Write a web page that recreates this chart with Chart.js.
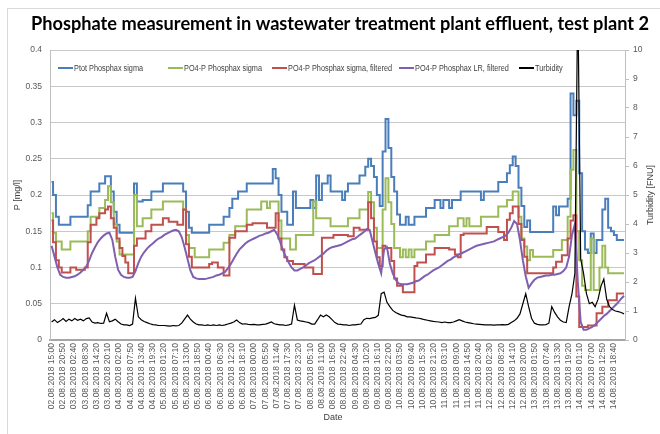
<!DOCTYPE html>
<html>
<head>
<meta charset="utf-8">
<script src="https://cdn.jsdelivr.net/npm/chart.js@4.4.1/dist/chart.umd.min.js"></script>
<style>
html,body{margin:0;padding:0;background:#fff;}
#wrap{width:660px;height:434px;position:relative;}
</style>
</head>
<body>
<div id="wrap"><canvas id="c" width="660" height="434"></canvas></div>
<script>
// ---------- DATA ----------
const chartTitle = 'Phosphate measurement in wastewater treatment plant effluent, test plant 2';
const yTitle = 'P [mg/l]';
const y1Title = 'Turbidity [FNU]';
const xTitle = 'Date';

// minutes since 02.08.2018 15:00 between two samples of every series
const sampleStepMinutes = 90;
// minutes between two date labels on the x axis
const labelStepMinutes = 350;

const xTickLabels = [
 '02.08.2018 15:00','02.08.2018 20:50','03.08.2018 02:40','03.08.2018 08:30','03.08.2018 14:20',
 '03.08.2018 20:10','04.08.2018 02:00','04.08.2018 07:50','04.08.2018 13:40','04.08.2018 19:30',
 '05.08.2018 01:20','05.08.2018 07:10','05.08.2018 13:00','05.08.2018 18:50','06.08.2018 00:40',
 '06.08.2018 06:30','06.08.2018 12:20','06.08.2018 18:10','07.08.2018 00:00','07.08.2018 05:50',
 '07.08.2018 11:40','07.08.2018 17:30','07.08.2018 23:20','08.08.2018 05:10','08.08.2018 11:00',
 '08.08.2018 16:50','08.08.2018 22:40','09.08.2018 04:30','09.08.2018 10:20','09.08.2018 16:10',
 '09.08.2018 22:00','10.08.2018 03:50','10.08.2018 09:40','10.08.2018 15:30','10.08.2018 21:20',
 '11.08.2018 03:10','11.08.2018 09:00','11.08.2018 14:50','11.08.2018 20:40','12.08.2018 02:30',
 '12.08.2018 08:20','12.08.2018 14:10','12.08.2018 20:00','13.08.2018 01:50','13.08.2018 07:40',
 '13.08.2018 13:30','13.08.2018 19:20','14.08.2018 01:10','14.08.2018 07:00','14.08.2018 12:50',
 '14.08.2018 18:40'
];
const yTicks = [0, 0.05, 0.1, 0.15, 0.2, 0.25, 0.3, 0.35, 0.4];
const y1Ticks = [0, 1, 2, 3, 4, 5, 6, 7, 8, 9, 10];

const seriesNames = ['Ptot Phosphax sigma', 'PO4-P Phosphax sigma', 'PO4-P Phosphax sigma, filtered', 'PO4-P Phosphax LR, filtered', 'Turbidity'];

const ptotSigma = [
 0.218,0.2,0.17,0.159,0.159,0.159,0.159,0.17,0.17,0.17,
 0.17,0.17,0.17,0.186,0.205,0.205,0.205,0.216,0.216,0.226,
 0.226,0.205,0.177,0.159,0.148,0.148,0.148,0.148,0.148,0.216,
 0.191,0.191,0.193,0.193,0.193,0.205,0.205,0.205,0.205,0.216,
 0.216,0.216,0.216,0.216,0.216,0.216,0.205,0.177,0.155,0.148,
 0.148,0.148,0.148,0.148,0.148,0.159,0.159,0.159,0.159,0.159,
 0.17,0.17,0.182,0.195,0.195,0.205,0.205,0.205,0.216,0.216,
 0.216,0.216,0.216,0.216,0.216,0.216,0.216,0.236,0.223,0.2,
 0.177,0.177,0.159,0.159,0.205,0.182,0.182,0.182,0.182,0.182,
 0.193,0.182,0.227,0.193,0.216,0.216,0.227,0.205,0.205,0.205,
 0.205,0.193,0.205,0.216,0.216,0.216,0.216,0.227,0.227,0.239,
 0.25,0.24,0.225,0.2,0.185,0.26,0.305,0.265,0.225,0.205,
 0.173,0.159,0.159,0.17,0.159,0.159,0.17,0.17,0.17,0.17,
 0.182,0.182,0.182,0.193,0.193,0.182,0.193,0.193,0.182,0.193,
 0.193,0.193,0.205,0.205,0.205,0.205,0.205,0.205,0.205,0.193,
 0.205,0.205,0.205,0.205,0.205,0.218,0.218,0.218,0.23,0.241,
 0.253,0.24,0.21,0.185,0.156,0.165,0.149,0.149,0.149,0.149,
 0.149,0.149,0.149,0.149,0.184,0.172,0.184,0.184,0.184,0.195,
 0.34,0.31,0.33,0.23,0.15,0.125,0.12,0.147,0.12,0.138,
 0.138,0.18,0.195,0.155,0.15,0.145,0.138,0.138,0.138
];
const po4Sigma = [
 0.175,0.148,0.136,0.136,0.125,0.125,0.125,0.136,0.136,0.136,
 0.136,0.136,0.136,0.15,0.17,0.17,0.17,0.182,0.182,0.193,
 0.212,0.19,0.16,0.136,0.118,0.118,0.118,0.118,0.118,0.2,
 0.157,0.157,0.168,0.168,0.168,0.18,0.18,0.18,0.18,0.191,
 0.191,0.191,0.191,0.191,0.191,0.191,0.18,0.145,0.127,0.127,
 0.114,0.114,0.114,0.114,0.114,0.125,0.125,0.125,0.125,0.125,
 0.134,0.134,0.145,0.145,0.157,0.157,0.157,0.157,0.18,0.18,
 0.18,0.18,0.18,0.191,0.191,0.182,0.191,0.191,0.191,0.165,
 0.14,0.14,0.14,0.125,0.125,0.145,0.145,0.145,0.145,0.145,
 0.145,0.191,0.168,0.168,0.168,0.168,0.168,0.157,0.157,0.157,
 0.157,0.157,0.157,0.168,0.168,0.168,0.168,0.18,0.18,0.18,
 0.204,0.19,0.155,0.127,0.127,0.18,0.223,0.19,0.16,0.127,
 0.127,0.114,0.125,0.114,0.125,0.114,0.125,0.125,0.125,0.125,
 0.136,0.136,0.136,0.145,0.145,0.145,0.145,0.145,0.157,0.157,
 0.157,0.168,0.168,0.157,0.168,0.157,0.157,0.157,0.157,0.17,
 0.17,0.17,0.17,0.17,0.17,0.184,0.184,0.184,0.193,0.193,
 0.205,0.205,0.17,0.14,0.129,0.11,0.124,0.115,0.115,0.115,
 0.115,0.115,0.115,0.115,0.124,0.124,0.124,0.138,0.138,0.17,
 0.235,0.262,0.15,0.11,0.075,0.069,0.069,0.14,0.069,0.069,
 0.1,0.13,0.1,0.092,0.092,0.092,0.092,0.092,0.092
];
const po4SigmaFiltered = [
 0.165,0.135,0.11,0.1,0.093,0.093,0.093,0.1,0.1,0.097,
 0.097,0.097,0.1,0.135,0.159,0.159,0.168,0.175,0.175,0.18,
 0.184,0.168,0.155,0.14,0.127,0.116,0.107,0.092,0.092,0.13,
 0.14,0.14,0.14,0.15,0.15,0.159,0.159,0.159,0.159,0.168,
 0.168,0.163,0.163,0.163,0.159,0.159,0.18,0.132,0.115,0.1,
 0.1,0.1,0.1,0.1,0.1,0.105,0.107,0.107,0.1,0.1,
 0.089,0.089,0.141,0.141,0.15,0.15,0.15,0.15,0.159,0.159,
 0.161,0.161,0.161,0.161,0.161,0.155,0.155,0.155,0.175,0.14,
 0.125,0.114,0.109,0.109,0.105,0.105,0.105,0.105,0.1,0.1,
 0.1,0.091,0.091,0.091,0.141,0.141,0.141,0.141,0.145,0.145,
 0.145,0.145,0.145,0.143,0.143,0.155,0.155,0.152,0.152,0.152,
 0.19,0.168,0.136,0.114,0.102,0.13,0.127,0.127,0.109,0.085,
 0.075,0.075,0.066,0.066,0.066,0.066,0.102,0.107,0.107,0.107,
 0.118,0.118,0.118,0.127,0.127,0.127,0.127,0.127,0.125,0.125,
 0.118,0.114,0.145,0.147,0.147,0.147,0.147,0.147,0.147,0.147,
 0.147,0.156,0.156,0.156,0.156,0.149,0.149,0.138,0.166,0.175,
 0.184,0.184,0.16,0.138,0.115,0.092,0.092,0.092,0.092,0.092,
 0.092,0.092,0.092,0.092,0.1,0.108,0.108,0.117,0.117,0.14,
 0.165,0.172,0.06,0.018,0.018,0.018,0.02,0.02,0.02,0.037,
 0.037,0.046,0.046,0.055,0.055,0.055,0.064,0.064,0.064
];
const po4LRFiltered = [
 0.13,0.115,0.1,0.09,0.087,0.086,0.086,0.087,0.088,0.09,
 0.093,0.097,0.101,0.11,0.12,0.128,0.135,0.14,0.144,0.147,
 0.148,0.138,0.115,0.097,0.09,0.087,0.086,0.086,0.087,0.095,
 0.106,0.115,0.121,0.126,0.13,0.133,0.137,0.14,0.142,0.145,
 0.147,0.149,0.151,0.152,0.15,0.142,0.128,0.112,0.096,0.087,
 0.085,0.084,0.084,0.084,0.085,0.086,0.087,0.089,0.09,0.092,
 0.094,0.099,0.105,0.112,0.119,0.125,0.129,0.133,0.136,0.138,
 0.14,0.142,0.144,0.145,0.147,0.148,0.15,0.152,0.146,0.136,
 0.124,0.115,0.107,0.1,0.096,0.096,0.098,0.1,0.103,0.106,
 0.108,0.11,0.113,0.116,0.119,0.123,0.126,0.128,0.129,0.13,
 0.131,0.133,0.135,0.137,0.139,0.14,0.143,0.146,0.149,0.153,
 0.152,0.136,0.12,0.105,0.092,0.125,0.128,0.105,0.092,0.083,
 0.078,0.077,0.077,0.077,0.078,0.079,0.081,0.082,0.085,0.088,
 0.09,0.093,0.096,0.098,0.1,0.103,0.106,0.109,0.111,0.114,
 0.116,0.118,0.12,0.122,0.124,0.126,0.128,0.13,0.131,0.132,
 0.133,0.134,0.135,0.136,0.138,0.14,0.142,0.144,0.148,0.155,
 0.164,0.16,0.138,0.11,0.088,0.072,0.078,0.083,0.086,0.087,
 0.088,0.089,0.089,0.09,0.09,0.091,0.092,0.095,0.1,0.115,
 0.145,0.16,0.08,0.025,0.014,0.014,0.016,0.018,0.021,0.025,
 0.029,0.033,0.036,0.04,0.044,0.048,0.052,0.057,0.061
];
const turbidity = [
 0.62,0.7,0.6,0.66,0.74,0.64,0.72,0.66,0.74,0.68,
 0.72,0.66,0.74,0.76,0.62,0.58,0.6,0.57,0.58,0.92,
 0.63,0.66,0.72,0.63,0.55,0.52,0.52,0.5,0.55,1.44,
 0.8,0.7,0.64,0.6,0.56,0.53,0.52,0.5,0.5,0.5,
 0.49,0.48,0.5,0.49,0.5,0.58,0.72,0.86,0.72,0.62,
 0.55,0.52,0.52,0.5,0.52,0.5,0.52,0.5,0.52,0.5,
 0.52,0.55,0.58,0.62,0.69,0.6,0.55,0.56,0.54,0.53,
 0.54,0.52,0.52,0.54,0.55,0.58,0.62,0.56,0.54,0.52,
 0.52,0.5,0.52,0.55,1.2,0.69,0.66,0.64,0.62,0.6,
 0.55,0.55,0.7,0.86,0.8,0.86,0.8,0.7,0.6,0.55,
 0.54,0.52,0.52,0.5,0.52,0.52,0.54,0.55,0.7,0.75,
 0.74,0.76,0.78,0.85,1.6,1.65,1.3,1.15,1.02,0.95,
 0.9,0.86,0.84,0.8,0.8,0.78,0.76,0.75,0.73,0.7,
 0.68,0.66,0.64,0.63,0.62,0.6,0.62,0.6,0.6,0.62,
 0.66,0.7,0.66,0.62,0.6,0.58,0.56,0.55,0.54,0.53,
 0.52,0.52,0.52,0.51,0.52,0.52,0.53,0.52,0.54,0.6,
 0.66,0.75,0.9,1.25,1.6,1.15,0.75,0.58,0.54,0.52,
 0.52,0.53,0.58,1.15,0.95,0.8,0.68,0.62,0.6,1.15,
 1.6,2.3,12,2.8,2.3,1.6,1.25,1.3,1.15,1.4,
 1.85,2.1,1.4,1.15,1.05,1.0,0.98,0.95,0.9
];

// ---------- CHART ----------
const toPoints = arr => arr.map((v, i) => ({x: i * sampleStepMinutes, y: v}));
const FONT = '"Liberation Sans", Arial, sans-serif';

const decor = {
  id: 'decor',
  beforeDraw(chart) {
    const ctx = chart.ctx;
    ctx.save();
    ctx.fillStyle = '#ffffff';
    ctx.fillRect(0, 0, chart.width, chart.height);
    ctx.strokeStyle = '#d9d9d9';
    ctx.lineWidth = 1;
    ctx.strokeRect(7.5, 8.5, 700, 500);
    ctx.restore();
  },
  afterDraw(chart) {
    const ctx = chart.ctx;
    const a = chart.chartArea;
    ctx.save();
    // main title (fitted to the width used by the original)
    ctx.fillStyle = '#000000';
    ctx.textAlign = 'center';
    ctx.textBaseline = 'middle';
    let size = 16;
    ctx.font = 'bold ' + size + 'px Lato, "Open Sans", sans-serif';
    const w = ctx.measureText(chartTitle).width;
    size = size * 618 / w;
    ctx.font = 'bold ' + size.toFixed(2) + 'px Lato, "Open Sans", sans-serif';
    ctx.fillText(chartTitle, 340, 24);

    // axis titles
    ctx.fillStyle = '#404040';
    ctx.font = '9px ' + FONT;
    const midY = (a.top + a.bottom) / 2;
    ctx.save(); ctx.translate(18, midY); ctx.rotate(-Math.PI / 2); ctx.fillText(yTitle, 0, 0); ctx.restore();
    ctx.save(); ctx.translate(651, midY); ctx.rotate(-Math.PI / 2); ctx.fillText(y1Title, 0, 0); ctx.restore();
    ctx.fillText(xTitle, 333, 418);

    // legend inside the plot area (condensed text like the original)
    const starts = [58, 168, 272, 399, 519];
    const ly = 68;
    ctx.textAlign = 'left';
    ctx.font = '8.5px ' + FONT;
    chart.data.datasets.forEach((ds, k) => {
      const x = starts[k];
      ctx.strokeStyle = ds.borderColor;
      ctx.lineWidth = 2;
      ctx.beginPath(); ctx.moveTo(x, ly); ctx.lineTo(x + 15, ly); ctx.stroke();
      ctx.fillStyle = '#404040';
      ctx.save();
      ctx.translate(x + 16, ly + 0.5);
      ctx.scale(0.86, 1);
      ctx.fillText(ds.label, 0, 0);
      ctx.restore();
    });
    ctx.restore();
  }
};

new Chart(document.getElementById('c'), {
  type: 'line',
  data: {
    datasets: [
      {label: seriesNames[0], data: toPoints(ptotSigma), borderColor: '#4a7ebb', borderWidth: 2, stepped: 'middle', yAxisID: 'y', order: 5},
      {label: seriesNames[1], data: toPoints(po4Sigma), borderColor: '#9bbb59', borderWidth: 2, stepped: 'middle', yAxisID: 'y', order: 4},
      {label: seriesNames[2], data: toPoints(po4SigmaFiltered), borderColor: '#c0504d', borderWidth: 2, stepped: 'middle', yAxisID: 'y', order: 3},
      {label: seriesNames[3], data: toPoints(po4LRFiltered), borderColor: '#7f60b0', borderWidth: 2, yAxisID: 'y', order: 2},
      {label: seriesNames[4], data: toPoints(turbidity), borderColor: '#000000', borderWidth: 1.2, yAxisID: 'y1', order: 1}
    ]
  },
  options: {
    responsive: false,
    animation: false,
    devicePixelRatio: 1,
    layout: {padding: {top: 50, left: 0, right: 0, bottom: 0}},
    elements: {point: {radius: 0}, line: {tension: 0, fill: false}},
    plugins: {legend: {display: false}, title: {display: false}, tooltip: {enabled: false}},
    scales: {
      x: {
        type: 'linear',
        min: -50,
        max: 17850,
        afterBuildTicks: axis => { axis.ticks = xTickLabels.map((_, k) => ({value: k * labelStepMinutes})); },
        afterFit: s => { s.height = 94; },
        grid: {display: false, drawTicks: false},
        border: {display: true, color: '#a6a6a6', width: 2},
        ticks: {
          autoSkip: false, minRotation: 90, maxRotation: 90, padding: 3,
          color: '#595959', font: {size: 8.5, family: FONT},
          callback: (v, i) => xTickLabels[i]
        }
      },
      y: {
        position: 'left',
        min: 0, max: 0.4,
        afterBuildTicks: axis => { axis.ticks = yTicks.map(v => ({value: v})); },
        afterFit: s => { s.width = 50; },
        grid: {color: '#c8c8c8', lineWidth: 1, drawTicks: false},
        border: {display: true, color: '#bfbfbf', width: 1},
        ticks: {padding: 8, color: '#595959', font: {size: 8.5, family: FONT}, callback: (v, i) => String(yTicks[i])}
      },
      y1: {
        position: 'right',
        min: 0, max: 10,
        afterBuildTicks: axis => { axis.ticks = y1Ticks.map(v => ({value: v})); },
        afterFit: s => { s.width = 35; },
        grid: {display: true, drawOnChartArea: false, drawTicks: true, tickLength: 4, color: '#bfbfbf'},
        border: {display: true, color: '#bfbfbf', width: 1},
        ticks: {padding: 4, color: '#595959', font: {size: 8.5, family: FONT}, callback: (v, i) => String(y1Ticks[i])}
      }
    }
  },
  plugins: [decor]
});
</script>
</body>
</html>
